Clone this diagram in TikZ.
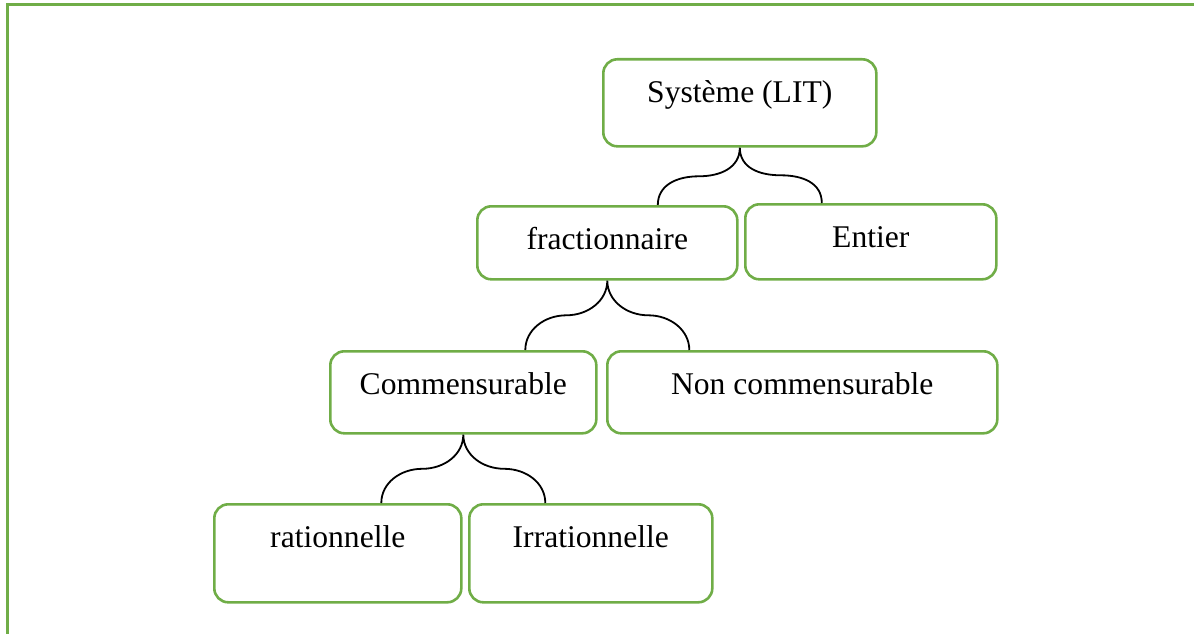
\documentclass[tikz,border=0pt]{standalone}
\usepackage{fontspec}
\setmainfont{Liberation Serif}
\usetikzlibrary{calc}
\definecolor{leaf}{HTML}{70AD47}

% curly fork from a parent box down to two child boxes
\newcommand\forkbrace[3]{%
  \coordinate (#1-l) at ($(#1.south)+(-82,0)$);
  \coordinate (#1-r) at ($(#1.south)+(82,0)$);
  \coordinate (#1-le) at (#1-l |- #2.north);
  \coordinate (#1-re) at (#1-r |- #3.north);
  \coordinate (#1-lm) at ($(#1.south)!0.5!(#1-le)$);
  \coordinate (#1-rm) at ($(#1.south)!0.5!(#1-re)$);
  \draw[brace] (#1-le) .. controls +(0,-20) and +(-22,0) .. (#1-lm)
    .. controls +(22,0) and +(0,20) .. (#1.south)
    .. controls +(0,20) and +(-22,0) .. (#1-rm)
    .. controls +(22,0) and +(0,-20) .. (#1-re);
}

\begin{document}
\begin{tikzpicture}[x=1pt,y=-1pt,
  box/.style={draw=leaf, line width=2.6pt, rounded corners=14pt,
    anchor=north west, inner xsep=0pt, inner ysep=0pt,
    text height=43.5pt, font=\fontsize{31.6}{38}\selectfont},
  brace/.style={draw=black, line width=1.8pt}]
\useasboundingbox (0,0) rectangle (1194,634);

% page frame (left and top rules)
\draw[leaf, line width=3pt] (7.3,634) -- (7.3,4.7) -- (1194,4.7);

% boxes
\node[box, minimum width=273pt, text depth=43.5pt] (sys) at (602,58) {Système (LIT)};
\node[box, minimum width=260pt, text depth=29.5pt] (frac) at (476,205) {fractionnaire};
\node[box, minimum width=251pt, text depth=31.5pt] (ent) at (744,203) {Entier};
\node[box, minimum width=266pt, text depth=38.5pt] (com) at (329,350) {Commensurable};
\node[box, minimum width=390pt, text depth=38.5pt] (non) at (606,350) {Non commensurable};
\node[box, minimum width=247pt, text depth=54.5pt] (rat) at (213,503) {rationnelle};
\node[box, minimum width=243pt, text depth=54.5pt] (irr) at (468,503) {Irrationnelle};

% forks
\forkbrace{sys}{frac}{ent}
\forkbrace{frac}{com}{non}
\forkbrace{com}{rat}{irr}
\end{tikzpicture}
\end{document}
